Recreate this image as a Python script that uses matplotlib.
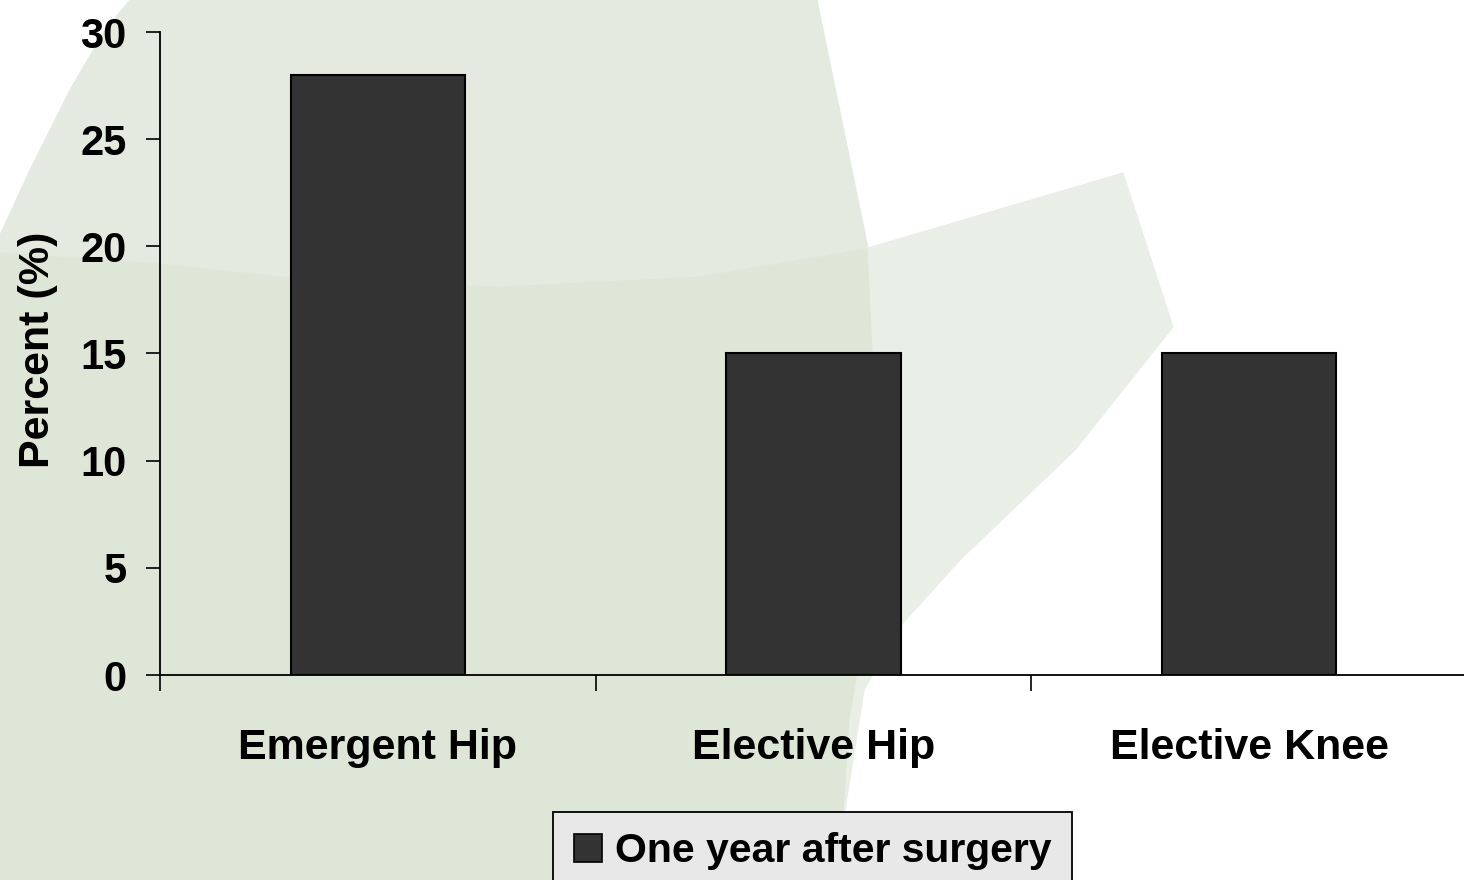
# ======================================================================================================================
#   Percent one year after surgery - bar chart
# ======================================================================================================================

import numpy as np

from matplotlib import pyplot as plt
from matplotlib.patches import Polygon, Patch


# ======================================================================================================================

CATEGORIES = ["Emergent Hip", "Elective Hip", "Elective Knee"]
PERCENT = [28, 15, 15]
SERIES = "One year after surgery"
Y_TICKS = [0, 5, 10, 15, 20, 25, 30]

W, H = 1464, 880

# background swoosh (pixel coords, y from top)
SHAPE_A = [(130, 0), (817, 0), (868, 248), (700, 276), (500, 286), (300, 278), (150, 262), (0, 252),
           (0, 235), (30, 170), (70, 90), (105, 30)]
SHAPE_B = [(0, 252), (150, 262), (300, 278), (500, 286), (700, 276), (868, 248), (878, 450), (870, 600),
           (850, 720), (840, 880), (0, 880)]
SHAPE_C = [(868, 248), (1123, 173), (1173, 327), (1075, 450), (960, 560), (903, 623), (864, 690),
           (845, 810), (838, 880), (840, 880), (850, 720), (870, 600), (878, 450)]


def px(points):
    return [(x / W, 1 - y / H) for x, y in points]


def main():
    plt.rcParams['font.family'] = ['Liberation Sans', 'DejaVu Sans']
    plt.rcParams['font.weight'] = 'bold'

    fig = plt.figure(figsize=(W / 100, H / 100), dpi=100)
    fig.patch.set_facecolor('white')

    for shape, color in [(SHAPE_B, '#dde6d7'), (SHAPE_A, '#e4eae0'), (SHAPE_C, '#e9eee6')]:
        fig.patches.append(Polygon(px(shape), closed=True, transform=fig.transFigure,
                                   facecolor=color, edgecolor=color, linewidth=0.8, zorder=-10))

    ax = fig.add_axes([160 / W, 1 - 675 / H, (1467 - 160) / W, (675 - 32) / H])
    ax.patch.set_alpha(0)

    x = np.arange(len(CATEGORIES))
    ax.bar(x, PERCENT, width=0.4, color='#333333', edgecolor='black', linewidth=1.5, zorder=3)

    ax.set_xlim(-0.5, len(CATEGORIES) - 0.5)
    ax.set_ylim(0, 30)

    ax.spines['top'].set_visible(False)
    ax.spines['right'].set_visible(False)
    ax.spines['left'].set_linewidth(1.3)
    ax.spines['bottom'].set_linewidth(1.3)

    ax.set_yticks(Y_TICKS)
    ax.tick_params(axis='y', direction='out', length=10, width=1.2, pad=14, labelsize=30)

    ax.set_xticks(x)
    ax.set_xticklabels(CATEGORIES, fontsize=31, fontweight='bold')
    ax.tick_params(axis='x', which='major', length=0, pad=38)
    ax.set_xticks(np.arange(-0.5, len(CATEGORIES)), minor=True)
    ax.tick_params(axis='x', which='minor', direction='out', length=11.5, width=1.2)

    for lbl in ax.get_yticklabels():
        lbl.set_fontweight('bold')

    ax.set_ylabel("Percent (%)", fontsize=31, fontweight='bold', va='center')
    ax.yaxis.set_label_coords(-0.093, 0.505)

    handle = Patch(facecolor='#333333', edgecolor='black', linewidth=1.2)
    leg = fig.legend([handle], [SERIES], loc='upper center', bbox_to_anchor=(812.5 / W, 1 - 812 / H),
                     bbox_transform=fig.transFigure, fontsize=29.5, frameon=True, fancybox=False,
                     handlelength=0.7, handleheight=0.7, handletextpad=0.3, borderpad=0.5,
                     borderaxespad=0)
    leg.get_frame().set_facecolor('#e8e8e8')
    leg.get_frame().set_edgecolor('black')
    leg.get_frame().set_linewidth(1.3)
    leg.get_frame().set_alpha(1)
    for t in leg.get_texts():
        t.set_fontweight('bold')

    fig.savefig("out.png", dpi=100)


if __name__ == "__main__":
    main()

# ======================================================================================================================
